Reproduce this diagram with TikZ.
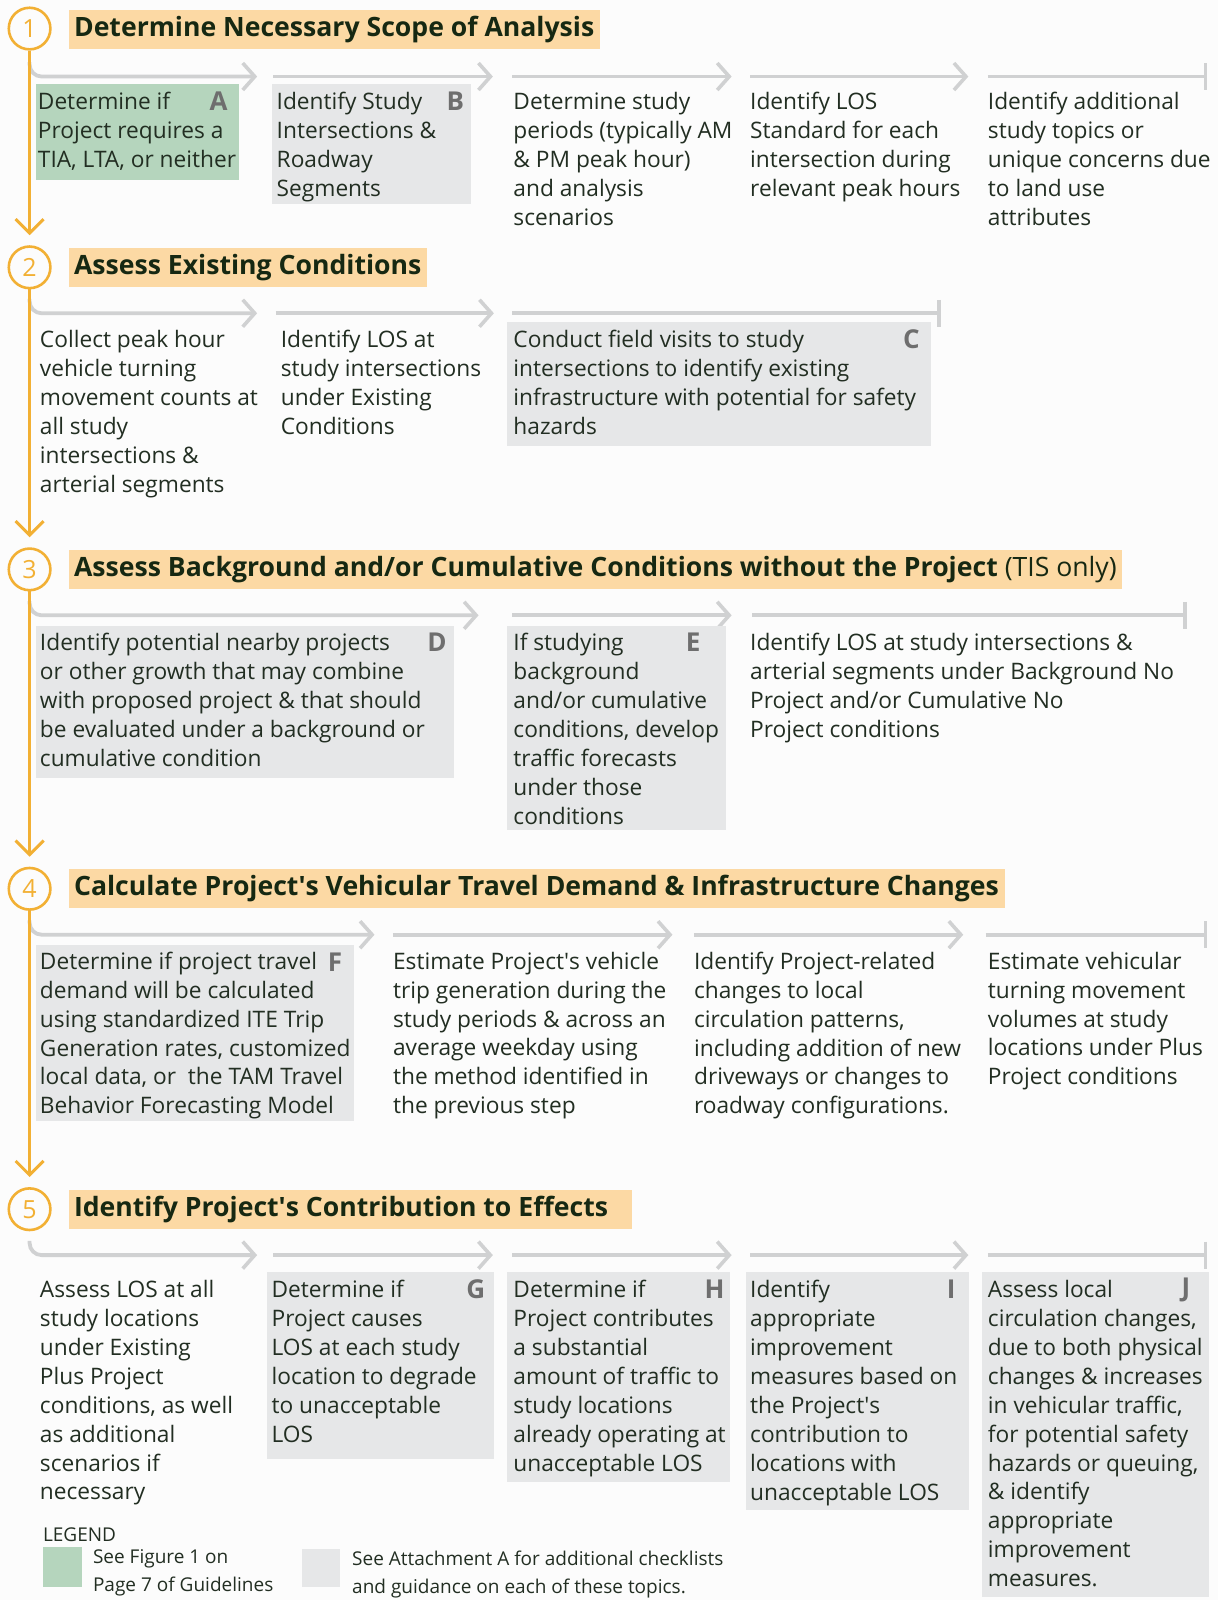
\documentclass[tikz,border=0pt]{standalone}
\usepackage{fontspec}
\setmainfont{Open Sans}
\usetikzlibrary{arrows.meta,calc,fit}
\definecolor{orangeline}{RGB}{242,176,52}
\definecolor{headfill}{RGB}{252,217,164}
\definecolor{greenbox}{RGB}{181,213,189}
\definecolor{graybox}{RGB}{230,231,232}
\definecolor{arrowgray}{RGB}{208,209,210}
\definecolor{lettergray}{RGB}{110,110,110}
\definecolor{bodytext}{RGB}{34,46,34}
\definecolor{headtext}{RGB}{22,40,18}
\definecolor{bgcol}{RGB}{252,252,252}
\newcommand\bodyfnt{\fontsize{22.7}{28.9}\selectfont}
\newcommand\headfnt{\fontsize{26.6}{32}\selectfont\bfseries}
\newcommand\legfnt{\fontsize{19}{28.5}\selectfont}
\newcommand\numfnt{\fontsize{25}{30}\selectfont}
\newcommand\letfnt{\fontsize{26}{30}\selectfont\bfseries}
\newcommand\apos{\textquotesingle}
\begin{document}
\begin{tikzpicture}[x=1.0201pt,y=-1.0201pt,
  txt/.style={align=left, font=\bodyfnt, text=bodytext, inner sep=0pt, anchor=north west,
    execute at begin node=\strut, execute at end node=\strut},
  legtxt/.style={align=left, font=\legfnt, text=bodytext, inner sep=0pt, anchor=north west,
    execute at begin node=\strut, execute at end node=\strut},
  graypanel/.style={fill=graybox, inner sep=0pt, draw=none},
  greenpanel/.style={fill=greenbox, inner sep=0pt, draw=none},
  letter/.style={font=\letfnt, text=lettergray, inner sep=0pt, anchor=center},
  head/.style={fill=headfill, text=headtext, font=\headfnt, anchor=west, inner xsep=5.5pt, inner ysep=0pt,
    minimum height=39pt, text height=19pt, text depth=5pt},
  circ/.style={circle, draw=orangeline, line width=2.6pt, minimum size=41.6pt, inner sep=0pt,
    font=\numfnt, text=orangeline, fill=bgcol},
  oarrow/.style={draw=orangeline, line width=3pt, shorten >=10pt,
    -{Straight Barb[length=14pt,width=28pt,line width=3pt]}},
  garrow/.style={draw=arrowgray, line width=3.8pt,
    -{Straight Barb[length=12pt,width=27pt,line width=3.6pt]}},
  gbar/.style={draw=arrowgray, line width=3.8pt, -{Bar[width=27pt,line width=3.6pt]}}
]
\useasboundingbox (0,0) rectangle (1194,1568);
\fill[bgcol] (0,0) rectangle (1194,1568);

% ---------- row coordinates for connectors ----------
\coordinate (r1s) at (29,61);   \coordinate (r1a) at (252,75);
\coordinate (r1b) at (268,75);  \coordinate (r1c) at (483,75);
\coordinate (r1d) at (502,75);  \coordinate (r1e) at (717,75);
\coordinate (r1f) at (735,75);  \coordinate (r1g) at (949,75);
\coordinate (r1h) at (968,75);  \coordinate (r1i) at (1183,75);

\coordinate (r2s) at (29,293);  \coordinate (r2a) at (252,307);
\coordinate (r2b) at (270,307); \coordinate (r2c) at (484,307);
\coordinate (r2d) at (502,307); \coordinate (r2e) at (922,307);

\coordinate (r3s) at (29,589);  \coordinate (r3a) at (469,603);
\coordinate (r3b) at (502,603); \coordinate (r3c) at (717,603);
\coordinate (r3d) at (737,603); \coordinate (r3e) at (1163,603);

\coordinate (r4s) at (29,902);  \coordinate (r4a) at (367,916);
\coordinate (r4b) at (385,916); \coordinate (r4c) at (659,916);
\coordinate (r4d) at (680,916); \coordinate (r4e) at (944,916);
\coordinate (r4f) at (966,916); \coordinate (r4g) at (1183,916);

\coordinate (r5s) at (29,1216); \coordinate (r5a) at (252,1230);
\coordinate (r5b) at (268,1230); \coordinate (r5c) at (483,1230);
\coordinate (r5d) at (502,1230); \coordinate (r5e) at (717,1230);
\coordinate (r5f) at (735,1230); \coordinate (r5g) at (949,1230);
\coordinate (r5h) at (968,1230); \coordinate (r5i) at (1183,1230);

% ---------- gray flow connectors ----------
\draw[garrow, rounded corners=12pt] (r1s) |- (r1a);
\draw[garrow] (r1b) -- (r1c);
\draw[garrow] (r1d) -- (r1e);
\draw[garrow] (r1f) -- (r1g);
\draw[gbar] (r1h) -- (r1i);

\draw[garrow, rounded corners=12pt] (r2s) |- (r2a);
\draw[garrow] (r2b) -- (r2c);
\draw[gbar] (r2d) -- (r2e);

\draw[garrow, rounded corners=12pt] (r3s) |- (r3a);
\draw[garrow] (r3b) -- (r3c);
\draw[gbar] (r3d) -- (r3e);

\draw[garrow, rounded corners=12pt] (r4s) |- (r4a);
\draw[garrow] (r4b) -- (r4c);
\draw[garrow] (r4d) -- (r4e);
\draw[gbar] (r4f) -- (r4g);

\draw[garrow, rounded corners=12pt] (r5s) |- (r5a);
\draw[garrow] (r5b) -- (r5c);
\draw[garrow] (r5d) -- (r5e);
\draw[garrow] (r5f) -- (r5g);
\draw[gbar] (r5h) -- (r5i);

% ---------- step circles ----------
\node[circ] (c1) at (29,28) {1};
\node[circ] (c2) at (29,262) {2};
\node[circ] (c3) at (29,558) {3};
\node[circ] (c4) at (29,871) {4};
\node[circ] (c5) at (29,1185) {5};
\draw[oarrow] (c1) -- (c2);
\draw[oarrow] (c2) -- (c3);
\draw[oarrow] (c3) -- (c4);
\draw[oarrow] (c4) -- (c5);

% ---------- headings ----------
\node[head] (h1) at (67,29) {Determine Necessary Scope of Analysis};
\node[head] (h2) at (67,262) {Assess Existing Conditions};
\node[head] (h3) at (67,558) {Assess Background and/or Cumulative Conditions without the Project {\mdseries(TIS only)}};
\node[head] (h4) at (67,871) {Calculate Project\apos s Vehicular Travel Demand \& Infrastructure Changes};
\node[head] (h5) at (67,1185) {Identify Project\apos s Contribution to Effects\hspace*{18pt}};

% ---------- panels ----------
\node[greenpanel, fit={(35,82) (234,176)}] (A) {};
\node[graypanel, fit={(267,82) (462,200)}] (B) {};
\node[graypanel, fit={(497,316) (912,437)}] (C) {};
\node[graypanel, fit={(35,613) (445,762)}] (D) {};
\node[graypanel, fit={(497,613) (711,813)}] (E) {};
\node[graypanel, fit={(35,926) (347,1099)}] (F) {};
\node[graypanel, fit={(262,1247) (484,1430)}] (G) {};
\node[graypanel, fit={(497,1247) (715,1452)}] (H) {};
\node[graypanel, fit={(731,1247) (950,1480)}] (I) {};
\node[graypanel, fit={(962,1247) (1185,1565)}] (J) {};

\node[letter] (Al) at ($(A.north east)+(-20,17)$) {A};
\node[letter] (Bl) at ($(B.north east)+(-16,17)$) {B};
\node[letter] (Cl) at ($(C.north east)+(-19,17)$) {C};
\node[letter] (Dl) at ($(D.north east)+(-17,17)$) {D};
\node[letter] (El) at ($(E.north east)+(-32,17)$) {E};
\node[letter] (Fl) at ($(F.north east)+(-19,17)$) {F};
\node[letter] (Gl) at ($(G.north east)+(-18,17)$) {G};
\node[letter] (Hl) at ($(H.north east)+(-15,17)$) {H};
\node[letter] (Il) at ($(I.north east)+(-18,17)$) {I};
\node[letter] (Jl) at ($(J.north east)+(-23,17)$) {J};

% ---------- row 1 texts ----------
\node[txt] (t11) at (37,90.5) {Determine if\\Project requires a\\TIA, LTA, or neither};
\node[txt] (t12) at (271,90.5) {Identify Study\\Intersections \&\\Roadway\\Segments};
\node[txt] (t13) at (503,90.5) {Determine study\\periods (typically AM\\\& PM peak hour)\\and analysis\\scenarios};
\node[txt] (t14) at (735,90.5) {Identify LOS\\Standard for each\\intersection during\\relevant peak hours};
\node[txt] (t15) at (968,90.5) {Identify additional\\study topics or\\unique concerns due\\to land use\\attributes};

% ---------- row 2 texts ----------
\node[txt] (t21) at (39,323.7) {Collect peak hour\\vehicle turning\\movement counts at\\all study\\intersections \&\\arterial segments};
\node[txt] (t22) at (275,323.7) {Identify LOS at\\study intersections\\under Existing\\Conditions};
\node[txt] (t23) at (503,323.7) {Conduct field visits to study\\intersections to identify existing\\infrastructure with potential for safety\\hazards};

% ---------- row 3 texts ----------
\node[txt] (t31) at (39,620.7) {Identify potential nearby projects\\or other growth that may combine\\with proposed project \& that should\\be evaluated under a background or\\cumulative condition};
\node[txt] (t32) at (503,620.7) {If studying\\background\\and/or cumulative\\conditions, develop\\traffic forecasts\\under those\\conditions};
\node[txt] (t33) at (735,620.7) {Identify LOS at study intersections \&\\arterial segments under Background No\\Project and/or Cumulative No\\Project conditions};

% ---------- row 4 texts ----------
\node[txt] (t41) at (39,932.7) {Determine if project travel\\demand will be calculated\\using standardized ITE Trip\\Generation rates, customized\\local data, or\ \ the TAM Travel\\Behavior Forecasting Model};
\node[txt] (t42) at (385,932.7) {Estimate Project\apos s vehicle\\trip generation during the\\study periods \& across an\\average weekday using\\the method identified in\\the previous step};
\node[txt] (t43) at (680,932.7) {Identify Project-related\\changes to local\\circulation patterns,\\including addition of new\\driveways or changes to\\roadway configurations.};
\node[txt] (t44) at (968,932.7) {Estimate vehicular\\turning movement\\volumes at study\\locations under Plus\\Project conditions};

% ---------- row 5 texts ----------
\node[txt] (t51) at (39,1254.5) {Assess LOS at all\\study locations\\under Existing\\Plus Project\\conditions, as well\\as additional\\scenarios if\\necessary};
\node[txt] (t52) at (266,1254.5) {Determine if\\Project causes\\LOS at each study\\location to degrade\\to unacceptable\\LOS};
\node[txt] (t53) at (503,1254.5) {Determine if\\Project contributes\\a substantial\\amount of traffic to\\study locations\\already operating at\\unacceptable LOS};
\node[txt] (t54) at (735,1254.5) {Identify\\appropriate\\improvement\\measures based on\\the Project\apos s\\contribution to\\locations with\\unacceptable LOS};
\node[txt] (t55) at (968,1254.5) {Assess local\\circulation changes,\\due to both physical\\changes \& increases\\in vehicular traffic,\\for potential safety\\hazards or queuing,\\\& identify\\appropriate\\improvement\\measures.};

% ---------- legend ----------
\node[legtxt] (leg) at (42,1491) {LEGEND};
\node[greenpanel, fit={(42,1516) (80,1555)}] (lg) {};
\node[legtxt] (lgt) at (91,1518) {See Figure 1 on\\Page 7 of Guidelines};
\node[graypanel, fit={(296,1518) (333,1555)}] (lr) {};
\node[legtxt] (lrt) at (345,1519.5) {See Attachment A for additional checklists\\and guidance on each of these topics.};
\end{tikzpicture}
\end{document}
